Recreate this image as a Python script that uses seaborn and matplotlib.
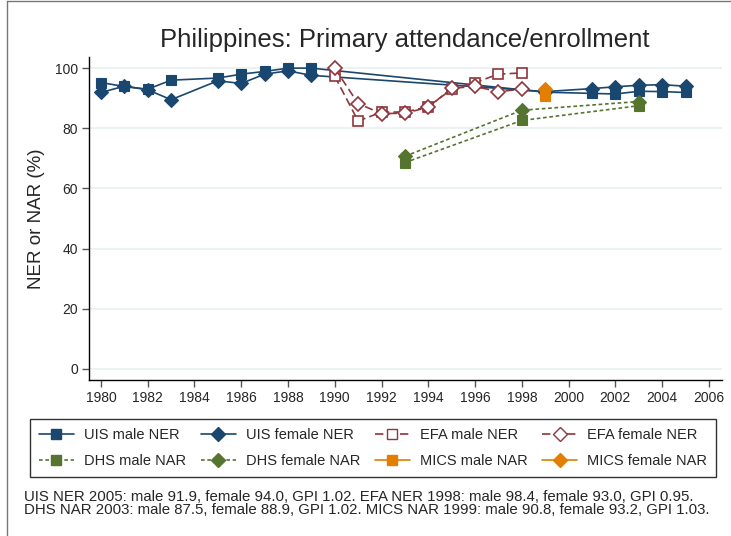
import numpy as np
import pandas as pd
import matplotlib
matplotlib.use("Agg")
import matplotlib.pyplot as plt
from matplotlib.lines import Line2D
import seaborn as sns

# data
uis_years = [1980, 1981, 1982, 1983, 1985, 1986, 1987, 1988, 1989, 1999, 2001, 2002, 2003, 2004, 2005]
uis_male = [95.2, 93.9, 93.0, 96.0, 96.7, 98.0, 98.9, 100.0, 100.0, 92.0, 91.6, 91.4, 92.3, 92.2, 91.9]
uis_female = [91.9, 94.0, 92.8, 89.5, 95.8, 94.9, 98.0, 99.1, 97.6, 92.2, 93.2, 93.8, 94.3, 94.5, 94.0]

efa_years = [1990, 1991, 1992, 1993, 1994, 1995, 1996, 1997, 1998]
efa_male = [97.3, 82.4, 85.4, 85.4, 87.2, 93.0, 95.2, 98.0, 98.4]
efa_female = [100.0, 88.2, 84.9, 85.0, 87.0, 93.3, 93.9, 92.2, 93.0]

dhs_years = [1993, 1998, 2003]
dhs_male = [68.6, 82.6, 87.5]
dhs_female = [70.7, 86.0, 88.9]

mics_years = [1999]
mics_male = [90.8]
mics_female = [93.2]

x_ticks = list(range(1980, 2007, 2))
y_ticks = [0, 20, 40, 60, 80, 100]

title = "Philippines: Primary attendance/enrollment"
y_label = "NER or NAR (%)"
note = ("UIS NER 2005: male 91.9, female 94.0, GPI 1.02. EFA NER 1998: male 98.4, female 93.0, GPI 0.95.\n"
        "DHS NAR 2003: male 87.5, female 88.9, GPI 1.02. MICS NAR 1999: male 90.8, female 93.2, GPI 1.03.")

navy = "#1a476f"
maroon = "#90353b"
green = "#55752f"
orange = "#e37e00"

sns.set_style("white")
plt.rcParams["font.family"] = ["Liberation Sans", "DejaVu Sans"]

fig = plt.figure(figsize=(7.31, 5.36), dpi=100)
ax = fig.add_axes([89 / 731, 1 - 380 / 536, (722 - 89) / 731, (380 - 57) / 536])

lw = 1.2
long_dash = (0, (5, 2.5))
short_dash = (0, (2.2, 1.6))

series = [
    ("UIS male NER", uis_years, uis_male, navy, "s", "-", True),
    ("UIS female NER", uis_years, uis_female, navy, "D", "-", True),
    ("EFA male NER", efa_years, efa_male, maroon, "s", long_dash, False),
    ("EFA female NER", efa_years, efa_female, maroon, "D", long_dash, False),
    ("DHS male NAR", dhs_years, dhs_male, green, "s", short_dash, True),
    ("DHS female NAR", dhs_years, dhs_female, green, "D", short_dash, True),
    ("MICS male NAR", mics_years, mics_male, orange, "s", "-", True),
    ("MICS female NAR", mics_years, mics_female, orange, "D", "-", True),
]

for label, xs, ys, col, mk, ls, filled in series:
    df = pd.DataFrame({"year": xs, "value": ys})
    sns.lineplot(data=df, x="year", y="value", ax=ax, color=col, linewidth=lw,
                 linestyle=ls, marker=mk, markersize=6.5 if mk == "s" else 7,
                 markerfacecolor=col if filled else "white",
                 markeredgecolor=col, markeredgewidth=1.2 if not filled else 0.8,
                 label=label, legend=False)

ax.set_xlim(1979.49, 2006.56)
ax.set_ylim(-3.67, 103.7)
ax.set_xticks(x_ticks)
ax.set_yticks(y_ticks)
ax.tick_params(axis="both", length=5, width=1, color="#555555", labelsize=10,
               direction="out", left=True, bottom=True, pad=3)
ax.yaxis.grid(True, color="#eaf2f3", linewidth=1.5)
ax.set_axisbelow(True)
for side in ["top", "right"]:
    ax.spines[side].set_visible(False)
for side in ["left", "bottom"]:
    ax.spines[side].set_color("black")
    ax.spines[side].set_linewidth(1.0)
ax.set_xlabel("")
ax.set_ylabel(y_label, fontsize=13.5, labelpad=7)

fig.text(405 / 731, 1 - 40 / 536, title, ha="center", va="center", fontsize=18.5)

handles = []
labels = []
for label, xs, ys, col, mk, ls, filled in series:
    handles.append(Line2D([], [], color=col, linewidth=lw, linestyle=ls, marker=mk,
                          markersize=6.5 if mk == "s" else 7,
                          markerfacecolor=col if filled else "white",
                          markeredgecolor=col))
    labels.append(label)

# legend fills column by column, reorder so rows read like the reference
order = [0, 4, 1, 5, 2, 6, 3, 7]
leg = fig.legend([handles[i] for i in order], [labels[i] for i in order], ncol=4,
                 loc="upper left",
                 bbox_to_anchor=(30 / 731, 1 - 478 / 536, (716 - 30) / 731, (478 - 419) / 536),
                 mode="expand", borderaxespad=0, fontsize=10.5, frameon=True,
                 fancybox=False, edgecolor="black", handlelength=2.4,
                 handletextpad=0.7, columnspacing=1.0, labelspacing=0.85,
                 borderpad=0.6)
leg.get_frame().set_linewidth(1.0)

fig.text(24 / 731, 1 - 490 / 536, note, ha="left", va="top", fontsize=10.8, linespacing=0.95)

# outer graph border as in the screenshot
fig.add_artist(Line2D([7 / 731, 7 / 731], [0, 1 - 1 / 536], color="#777777", linewidth=1.0))
fig.add_artist(Line2D([7 / 731, 1], [1 - 1 / 536, 1 - 1 / 536], color="#777777", linewidth=1.0))

fig.savefig("out.png", dpi=100)
